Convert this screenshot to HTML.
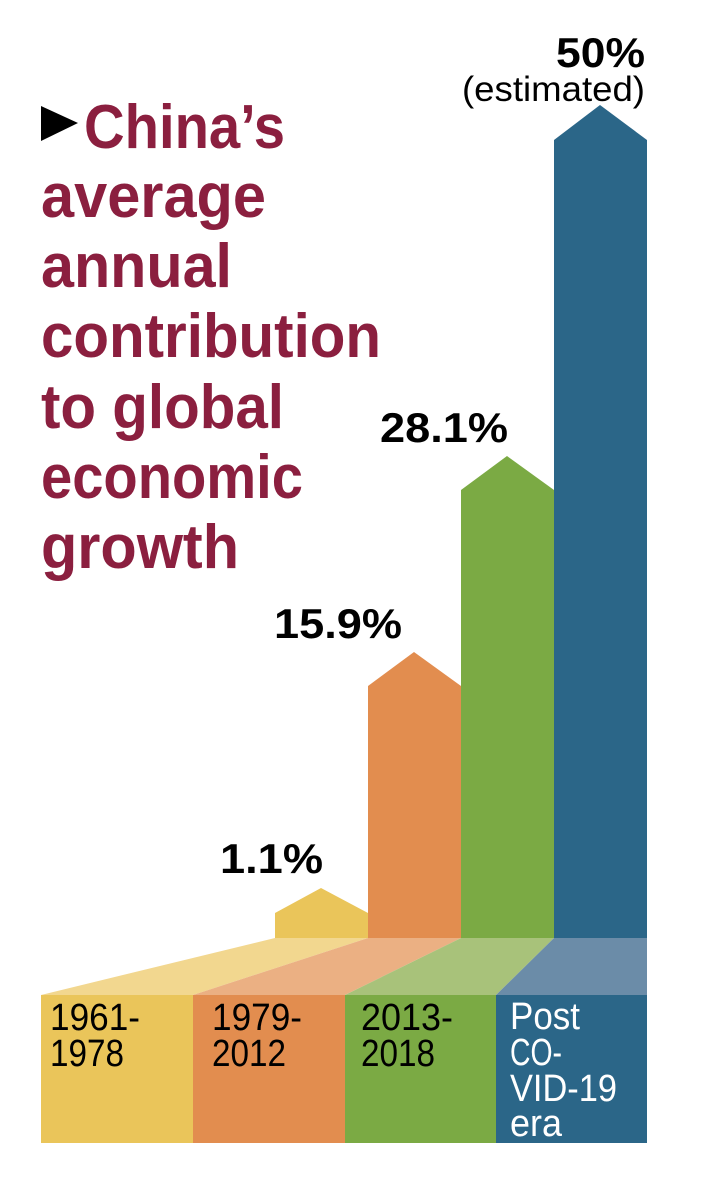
<!DOCTYPE html>
<html><head><meta charset="utf-8"><style>html,body{margin:0;padding:0;background:#fff}svg{display:block}</style></head>
<body>
<svg width="702" height="1184" viewBox="0 0 702 1184" xmlns="http://www.w3.org/2000/svg" font-family="Liberation Sans, sans-serif">
<rect width="702" height="1184" fill="#fff"/>
<polygon points="275,938 275,913 321,888 368,913 368,938" fill="#EAC55A"/>
<polygon points="368,938 368,686 414,652 461,686 461,938" fill="#E28D4F"/>
<polygon points="461,938 461,490 507,456 554,490 554,938" fill="#7BAA44"/>
<polygon points="554,938 554,140 600,105 647,140 647,938" fill="#2B6688"/>
<polygon points="275,938 368,938 193,995 41,995" fill="#F2D78F"/>
<polygon points="368,938 461,938 345,995 193,995" fill="#EBB083"/>
<polygon points="461,938 554,938 496,995 345,995" fill="#A8C27A"/>
<polygon points="554,938 647,938 647,995 496,995" fill="#6B8CA8"/>
<rect x="41" y="995" width="152" height="148" fill="#EAC55A"/>
<rect x="193" y="995" width="152" height="148" fill="#E28D4F"/>
<rect x="345" y="995" width="151" height="148" fill="#7BAA44"/>
<rect x="496" y="995" width="151" height="148" fill="#2B6688"/>
<g fill="#8B1F3F" font-weight="bold" font-size="62">
<polygon points="41,106 41,141 78,123" fill="#000"/>
<text x="84" y="148" textLength="201" lengthAdjust="spacingAndGlyphs">China’s</text>
<text x="41" y="217" textLength="225" lengthAdjust="spacingAndGlyphs">average</text>
<text x="41" y="287" textLength="191" lengthAdjust="spacingAndGlyphs">annual</text>
<text x="41" y="357" textLength="340" lengthAdjust="spacingAndGlyphs">contribution</text>
<text x="41" y="428" textLength="243" lengthAdjust="spacingAndGlyphs">to global</text>
<text x="41" y="498" textLength="262" lengthAdjust="spacingAndGlyphs">economic</text>
<text x="41" y="568" textLength="198" lengthAdjust="spacingAndGlyphs">growth</text>
</g>
<g fill="#000" font-weight="bold" font-size="42">
<text x="556" y="67" textLength="89" lengthAdjust="spacingAndGlyphs">50%</text>
<text x="380" y="442" textLength="128" lengthAdjust="spacingAndGlyphs">28.1%</text>
<text x="274" y="638" textLength="128" lengthAdjust="spacingAndGlyphs">15.9%</text>
<text x="220" y="873" textLength="103" lengthAdjust="spacingAndGlyphs">1.1%</text>
</g>
<text x="462" y="101" font-size="35" textLength="183" lengthAdjust="spacingAndGlyphs">(estimated)</text>
<g font-size="38">
<text x="50" y="1030" textLength="90" lengthAdjust="spacingAndGlyphs">1961-</text>
<text x="50" y="1066" textLength="74" lengthAdjust="spacingAndGlyphs">1978</text>
<text x="212" y="1030" textLength="90" lengthAdjust="spacingAndGlyphs">1979-</text>
<text x="212" y="1066" textLength="74" lengthAdjust="spacingAndGlyphs">2012</text>
<text x="361" y="1030" textLength="92" lengthAdjust="spacingAndGlyphs">2013-</text>
<text x="361" y="1066" textLength="74" lengthAdjust="spacingAndGlyphs">2018</text>
<g fill="#fff">
<text x="510" y="1029" textLength="70" lengthAdjust="spacingAndGlyphs">Post</text>
<text x="510" y="1065" textLength="52" lengthAdjust="spacingAndGlyphs">CO-</text>
<text x="510" y="1101" textLength="107" lengthAdjust="spacingAndGlyphs">VID-19</text>
<text x="510" y="1136" textLength="52" lengthAdjust="spacingAndGlyphs">era</text>
</g>
</g>
</svg>
</body></html>
